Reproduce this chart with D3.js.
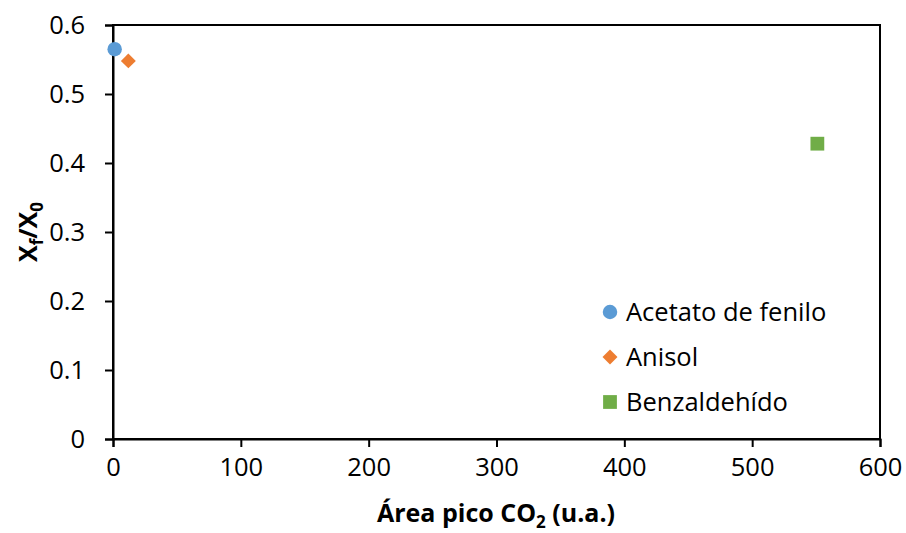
<!DOCTYPE html>
<html><head><meta charset="utf-8">
<script src="https://cdn.jsdelivr.net/npm/d3@7"></script>
<style>body{margin:0;background:#fff}svg{display:block;font-family:"Open Sans",sans-serif}</style>
</head><body>
<svg id="c" width="906" height="533"></svg>
<script>
const seriesNames = ["Acetato de fenilo", "Anisol", "Benzaldehído"];
const seriesColors = ["#5B9BD5", "#ED7D31", "#70AD47"];
const seriesShapes = ["circle", "diamond", "square"];
const xValues = [1.3, 12, 551];
const yValues = [0.565, 0.548, 0.428];
const xTicks = [0, 100, 200, 300, 400, 500, 600];
const yTicks = [0, 0.1, 0.2, 0.3, 0.4, 0.5, 0.6];

const svg = d3.select("#c");
const L = 113, R = 880, T = 25, B = 439;
const x = d3.scaleLinear().domain([0, 600]).range([L, R]);
const y = d3.scaleLinear().domain([0, 0.6]).range([B, T]);

svg.append("rect").attr("x", L).attr("y", T).attr("width", R - L).attr("height", B - T)
  .attr("fill", "none").attr("stroke", "#000").attr("stroke-width", 2);

const fs = 25.5;
const xAxis = svg.append("g").attr("transform", `translate(0,${B})`)
  .call(d3.axisBottom(x).tickValues(xTicks).tickSize(8).tickPadding(11).tickFormat(d3.format("d")));
const yAxis = svg.append("g").attr("transform", `translate(${L},0)`)
  .call(d3.axisLeft(y).tickValues(yTicks).tickSize(8).tickPadding(20).tickFormat(d => d === 0 ? "0" : d3.format(".1f")(d)));
[xAxis, yAxis].forEach(g => {
  g.select(".domain").attr("stroke", "#000").attr("stroke-width", 2);
  g.selectAll(".tick line").attr("stroke", "#000").attr("stroke-width", 2);
  g.selectAll(".tick text").attr("font-family", '"Open Sans",sans-serif').attr("font-size", fs).attr("fill", "#000");
});

const diamondSym = {draw(ctx, size) {
  const r = Math.sqrt(size / 2);
  ctx.moveTo(0, -r); ctx.lineTo(r, 0); ctx.lineTo(0, r); ctx.lineTo(-r, 0); ctx.closePath();
}};
const sym = {circle: d3.symbolCircle, diamond: diamondSym, square: d3.symbolSquare};
const sizes = {circle: 165, diamond: 112, square: 190};
function marker(g, shape, color, cx, cy) {
  g.append("path").attr("d", d3.symbol().type(sym[shape]).size(sizes[shape])())
    .attr("transform", `translate(${cx},${cy})`).attr("fill", color);
}

const pts = svg.append("g");
seriesNames.forEach((n, i) => marker(pts, seriesShapes[i], seriesColors[i], x(xValues[i]), y(yValues[i])));

const leg = svg.append("g");
const legY = [312, 357, 402];
seriesNames.forEach((n, i) => {
  marker(leg, seriesShapes[i], seriesColors[i], 610, legY[i]);
  leg.append("text").attr("x", 626).attr("y", legY[i]).attr("dy", "0.35em")
    .attr("font-size", fs).attr("fill", "#000").text(n);
});

svg.append("text").attr("x", 496).attr("y", 522).attr("text-anchor", "middle")
  .attr("font-size", 25).attr("font-weight", "bold").attr("fill", "#000")
  .call(t => {
    t.append("tspan").text("Área pico CO");
    t.append("tspan").attr("font-size", 17).attr("dy", 6).text("2");
    t.append("tspan").attr("dy", -6).text(" (u.a.)");
  });
svg.append("text").attr("transform", `translate(37,${(T + B) / 2}) rotate(-90)`).attr("text-anchor", "middle")
  .attr("font-size", 25).attr("font-weight", "bold").attr("fill", "#000")
  .call(t => {
    t.append("tspan").text("X");
    t.append("tspan").attr("font-size", 17).attr("dy", 6).text("f");
    t.append("tspan").attr("dy", -6).text("/X");
    t.append("tspan").attr("font-size", 17).attr("dy", 6).text("0");
  });
</script>
</body></html>
